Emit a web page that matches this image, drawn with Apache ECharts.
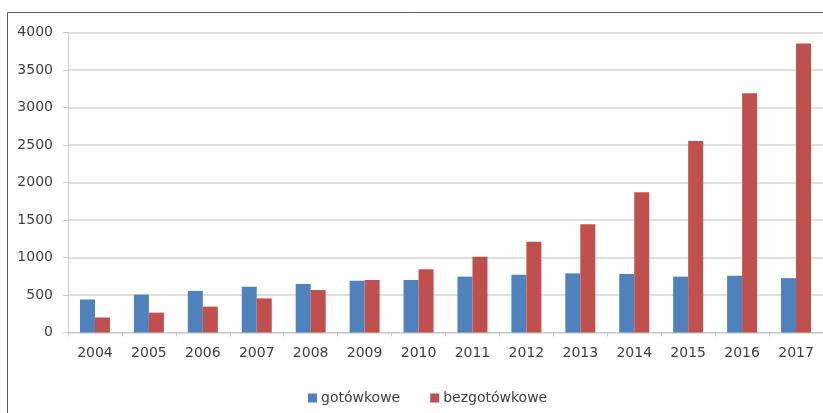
<!DOCTYPE html>
<html>
<head>
<meta charset="utf-8">
<script src="https://cdn.jsdelivr.net/npm/echarts@6/dist/echarts.min.js"></script>
<style>
  html, body { margin: 0; padding: 0; background: #ffffff; }
  #chart { width: 823px; height: 413px; }
</style>
</head>
<body>
<div id="chart"></div>
<script>
// Years on the category axis
const years = ['2004', '2005', '2006', '2007', '2008', '2009', '2010',
               '2011', '2012', '2013', '2014', '2015', '2016', '2017'];

// Cash transactions
const gotowkowe = [440, 505, 555, 610, 648, 690, 700, 745, 770, 788, 780, 745, 757, 725];

// Cashless transactions
const bezgotowkowe = [200, 265, 345, 455, 567, 700, 843, 1010, 1210, 1443, 1870, 2553, 3190, 3855];

// Value axis ticks
const yMin = 0;
const yMax = 4000;
const yStep = 500;

const FONT = 'DejaVu Sans';

const chart = echarts.init(document.getElementById('chart'), null, { renderer: 'canvas' });

chart.setOption({
  animation: false,
  backgroundColor: '#ffffff',
  textStyle: { fontFamily: FONT },
  graphic: [{
    type: 'rect',
    z: 100,
    silent: true,
    shape: { x: 7.5, y: 12.5, width: 840, height: 430 },
    style: { fill: 'none', stroke: '#5a5a5a', lineWidth: 1 }
  }],
  grid: { left: 68, right: -3, top: 32.5, bottom: 80.5, containLabel: false },
  legend: {
    left: 303,
    top: 386,
    icon: 'rect',
    itemWidth: 9,
    itemHeight: 9,
    itemGap: 30,
    textStyle: { fontFamily: FONT, fontSize: 14, color: '#404040', padding: [0, 0, 0, -1] },
    data: ['gotówkowe', 'bezgotówkowe']
  },
  xAxis: {
    type: 'category',
    data: years,
    axisLine: { show: true, lineStyle: { color: '#c8c8c8', width: 1 } },
    axisTick: { show: true, length: 4, lineStyle: { color: '#c8c8c8' } },
    axisLabel: { fontFamily: FONT, fontSize: 14, color: '#404040', margin: 14 },
    splitLine: { show: false }
  },
  yAxis: {
    type: 'value',
    min: yMin,
    max: yMax,
    interval: yStep,
    axisLine: { show: true, lineStyle: { color: '#c8c8c8', width: 1 } },
    axisTick: { show: true, length: 5, lineStyle: { color: '#c8c8c8' } },
    axisLabel: {
      fontFamily: FONT, fontSize: 14, color: '#404040', margin: 15,
      formatter: (v) => String(v)
    },
    splitLine: { show: true, lineStyle: { color: '#d4d4d4', width: 1.5 } }
  },
  series: [
    {
      name: 'gotówkowe',
      type: 'bar',
      data: gotowkowe,
      barWidth: 15,
      barGap: '0%',
      itemStyle: { color: '#4f81bd' }
    },
    {
      name: 'bezgotówkowe',
      type: 'bar',
      data: bezgotowkowe,
      barWidth: 15,
      barGap: '0%',
      itemStyle: { color: '#c0504d' }
    }
  ]
});
</script>
</body>
</html>
